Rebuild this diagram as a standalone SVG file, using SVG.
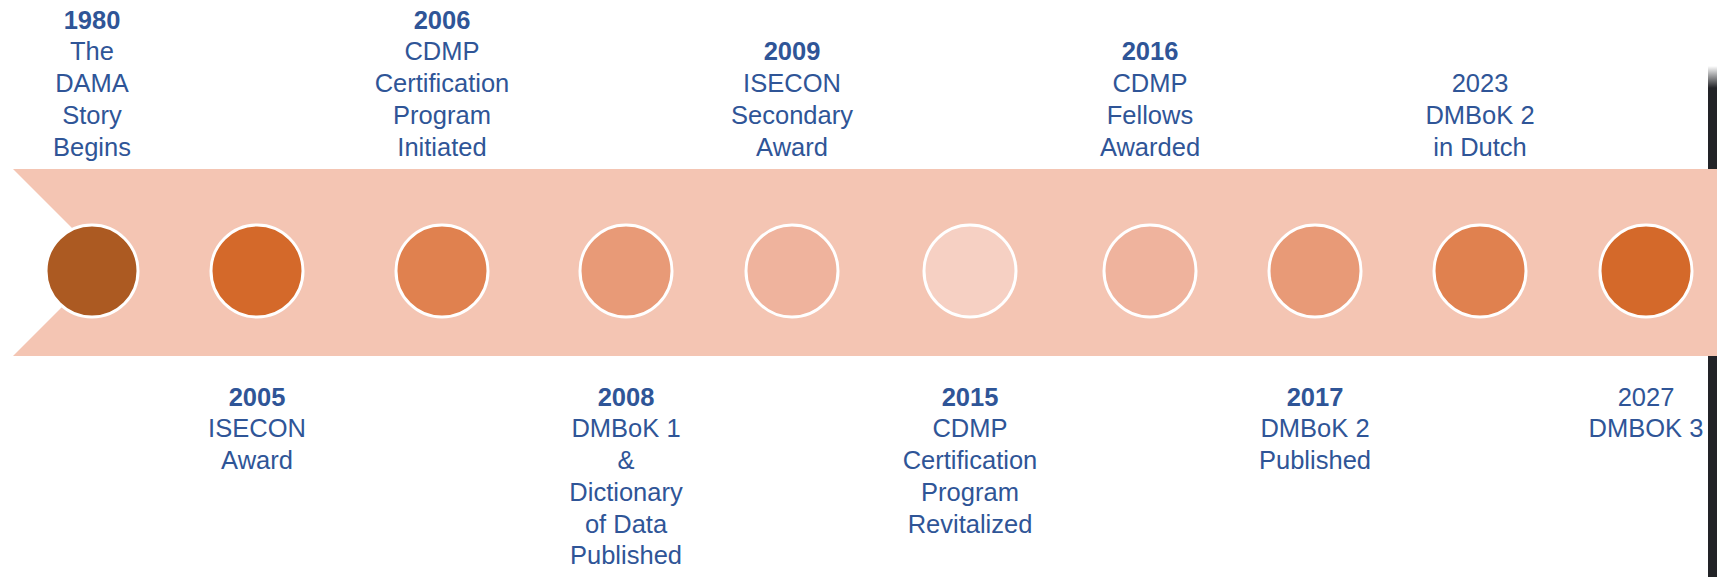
<svg xmlns="http://www.w3.org/2000/svg" width="1717" height="577" viewBox="0 0 1717 577">
<style>
.lbl{font-family:"Liberation Sans",Arial,sans-serif;font-size:25.5px;fill:#2F5597;text-anchor:middle}
.yr{font-weight:bold}
.dot{stroke:#FFFFFF;stroke-width:3}
</style>
<defs>
<linearGradient id="edgeFade" x1="0" y1="0" x2="0" y2="1">
<stop offset="0" stop-color="#222327" stop-opacity="0"/>
<stop offset="1" stop-color="#222327" stop-opacity="1"/>
</linearGradient>
</defs>
<rect width="1717" height="577" fill="#FFFFFF"/>
<g id="window-edge">
<rect x="1708" y="66" width="9" height="22" fill="url(#edgeFade)"/>
<rect x="1708" y="88" width="9" height="489" fill="#222327"/>
</g>
<g id="timeline-band">
<polygon points="13,169 1717,169 1717,356 13,356 106.5,262.5" fill="#F4C5B3"/>
</g>
<g id="connectors"></g>
<g id="node-1980">
<circle class="dot" cx="92" cy="271" r="46" fill="#AC5A22"/>
<text class="lbl"><tspan class="yr" x="92" y="28.5">1980</tspan><tspan x="92" y="60.3">The</tspan><tspan x="92" y="92">DAMA</tspan><tspan x="92" y="123.8">Story</tspan><tspan x="92" y="155.5">Begins</tspan></text>
</g>
<g id="node-2005">
<circle class="dot" cx="257" cy="271" r="46" fill="#D4692A"/>
<text class="lbl"><tspan class="yr" x="257" y="405.7">2005</tspan><tspan x="257" y="437.4">ISECON</tspan><tspan x="257" y="469.1">Award</tspan></text>
</g>
<g id="node-2006">
<circle class="dot" cx="442" cy="271" r="46" fill="#E0814F"/>
<text class="lbl"><tspan class="yr" x="442" y="28.5">2006</tspan><tspan x="442" y="60.3">CDMP</tspan><tspan x="442" y="92">Certification</tspan><tspan x="442" y="123.8">Program</tspan><tspan x="442" y="155.5">Initiated</tspan></text>
</g>
<g id="node-2008">
<circle class="dot" cx="626" cy="271" r="46" fill="#E89A77"/>
<text class="lbl"><tspan class="yr" x="626" y="405.7">2008</tspan><tspan x="626" y="437.4">DMBoK 1</tspan><tspan x="626" y="469.1">&amp;</tspan><tspan x="626" y="500.8">Dictionary</tspan><tspan x="626" y="532.5">of Data</tspan><tspan x="626" y="564.2">Published</tspan></text>
</g>
<g id="node-2009">
<circle class="dot" cx="792" cy="271" r="46" fill="#EFB39D"/>
<text class="lbl"><tspan class="yr" x="792" y="60.3">2009</tspan><tspan x="792" y="92">ISECON</tspan><tspan x="792" y="123.8">Secondary</tspan><tspan x="792" y="155.5">Award</tspan></text>
</g>
<g id="node-2015">
<circle class="dot" cx="970" cy="271" r="46" fill="#F6D0C3"/>
<text class="lbl"><tspan class="yr" x="970" y="405.7">2015</tspan><tspan x="970" y="437.4">CDMP</tspan><tspan x="970" y="469.1">Certification</tspan><tspan x="970" y="500.8">Program</tspan><tspan x="970" y="532.5">Revitalized</tspan></text>
</g>
<g id="node-2016">
<circle class="dot" cx="1150" cy="271" r="46" fill="#EFB39D"/>
<text class="lbl"><tspan class="yr" x="1150" y="60.3">2016</tspan><tspan x="1150" y="92">CDMP</tspan><tspan x="1150" y="123.8">Fellows</tspan><tspan x="1150" y="155.5">Awarded</tspan></text>
</g>
<g id="node-2017">
<circle class="dot" cx="1315" cy="271" r="46" fill="#E89A77"/>
<text class="lbl"><tspan class="yr" x="1315" y="405.7">2017</tspan><tspan x="1315" y="437.4">DMBoK 2</tspan><tspan x="1315" y="469.1">Published</tspan></text>
</g>
<g id="node-2023">
<circle class="dot" cx="1480" cy="271" r="46" fill="#E0814F"/>
<text class="lbl"><tspan x="1480" y="92">2023</tspan><tspan x="1480" y="123.8">DMBoK 2</tspan><tspan x="1480" y="155.5">in Dutch</tspan></text>
</g>
<g id="node-2027">
<circle class="dot" cx="1646" cy="271" r="46" fill="#D4692A"/>
<text class="lbl"><tspan x="1646" y="405.7">2027</tspan><tspan x="1646" y="437.4">DMBOK 3</tspan></text>
</g>
</svg>
